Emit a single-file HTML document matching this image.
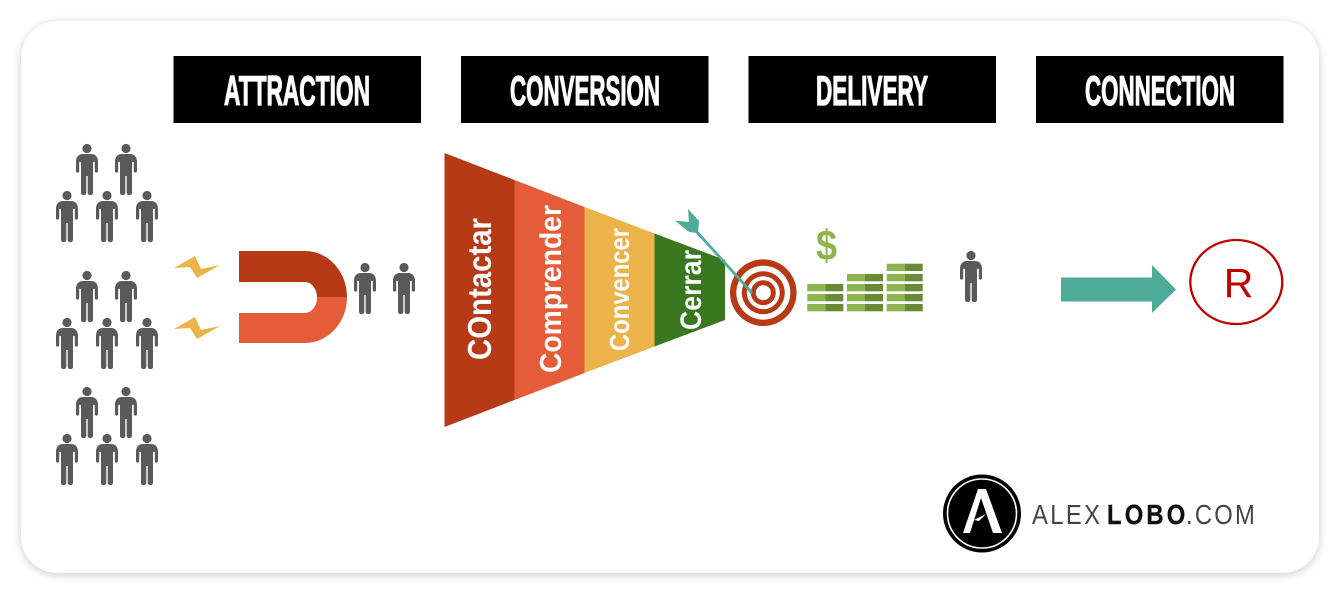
<!DOCTYPE html>
<html><head><meta charset="utf-8"><style>
html,body{margin:0;padding:0;background:#fff;width:1341px;height:595px;overflow:hidden}
#c{position:absolute;left:21px;top:21px;width:1298px;height:552px;background:#fff;border-radius:36px;box-shadow:0 2px 9px rgba(0,0,0,.2)}
svg{position:absolute;left:0;top:0}
text{font-family:"Liberation Sans",sans-serif}
</style></head><body><div id="c"></div>
<svg width="1341" height="595" viewBox="0 0 1341 595">
<defs>
<g id="p" fill="#5a5a5a"><circle cx="0" cy="4.500" r="4.600"/><path d="M-4 10H4C8.500 10 11 13 11 18V27a1.600 1.600 0 0 1-3.200 0V18.500C7.800 17.500 6.500 17.500 6 18.500V49a2.700 2.700 0 0 1-5.300 0V32H-.7V49a2.700 2.700 0 0 1-5.300 0V18.500C-6.500 17.500-7.800 17.500-7.800 18.500V27a1.600 1.600 0 0 1-3.200 0V18C-11 13-8.500 10-4 10Z"/></g>
<g id="b"><rect x="0" y="0" width="18" height="7.300" fill="#8cb54f"/><rect x="18" y="0" width="18" height="7.300" fill="#6b8a37"/></g>
</defs>
<g fill="#000"><rect x="173.500" y="56" width="247.500" height="67"/><rect x="461" y="56" width="247.500" height="67"/><rect x="748.500" y="56" width="247.500" height="67"/><rect x="1036" y="56" width="247.500" height="67"/></g>
<g fill="#fff" stroke="#fff" stroke-width="1.300" font-weight="700" font-size="42">
<text x="224" y="105" textLength="146" lengthAdjust="spacingAndGlyphs">ATTRACTION</text>
<text x="510" y="105" textLength="150" lengthAdjust="spacingAndGlyphs">CONVERSION</text>
<text x="816" y="105" textLength="112" lengthAdjust="spacingAndGlyphs">DELIVERY</text>
<text x="1085" y="105" textLength="150" lengthAdjust="spacingAndGlyphs">CONNECTION</text>
</g>
<use href="#p" x="87" y="144"/><use href="#p" x="126" y="144"/><use href="#p" x="67" y="191"/><use href="#p" x="107" y="191"/><use href="#p" x="147" y="191"/>
<use href="#p" x="87" y="271"/><use href="#p" x="126" y="271"/><use href="#p" x="67" y="318"/><use href="#p" x="107" y="318"/><use href="#p" x="147" y="318"/>
<use href="#p" x="87" y="387"/><use href="#p" x="126" y="387"/><use href="#p" x="67" y="434"/><use href="#p" x="107" y="434"/><use href="#p" x="147" y="434"/>
<use href="#p" x="365" y="263"/><use href="#p" x="404" y="263"/><use href="#p" x="971" y="251"/>
<polygon points="174,268 195,256 201,269 220,265 197,278 190,267" fill="#ecb34a"/>
<polygon points="174,329 195,317 201,330 220,326 197,339 190,328" fill="#ecb34a"/>
<path d="M239 251H305A42 46 0 0 1 347 297H317A12 15.500 0 0 0 305 282H239Z" fill="#b53a15"/>
<path d="M239 343H305A42 46 0 0 0 347 297H317A12 15.500 0 0 1 305 313H239Z" fill="#e45c38"/>
<polygon points="444.500,153 514.500,180 514.500,400 444.500,427" fill="#b53a15"/>
<polygon points="514.500,180 584.500,207 584.500,373 514.500,400" fill="#e45c38"/>
<polygon points="584.500,207 654.500,233.500 654.500,346.500 584.500,373" fill="#ecb34a"/>
<polygon points="654.500,233.500 725,260 725,320 654.500,346.500" fill="#3a7820"/>
<g fill="#fff" font-weight="700">
<text transform="translate(491,360) rotate(-90)" font-size="33" textLength="142" lengthAdjust="spacingAndGlyphs">COntactar</text>
<text transform="translate(561,373) rotate(-90)" font-size="31" textLength="168" lengthAdjust="spacingAndGlyphs">Comprender</text>
<text transform="translate(629,351) rotate(-90)" font-size="28" textLength="123" lengthAdjust="spacingAndGlyphs">Convencer</text>
<text transform="translate(701,330) rotate(-90)" font-size="30" textLength="80" lengthAdjust="spacingAndGlyphs">Cerrar</text>
</g>
<circle cx="763.300" cy="292.700" r="33.300" fill="#b53a15"/><circle cx="763.300" cy="292.700" r="27" fill="#fff"/><circle cx="763.300" cy="292.700" r="21.500" fill="#b53a15"/><circle cx="763.300" cy="292.700" r="16.500" fill="#fff"/><circle cx="763.300" cy="292.700" r="12.500" fill="#b53a15"/><circle cx="763.300" cy="292.700" r="7.500" fill="#fff"/>
<line x1="696" y1="231" x2="752" y2="293" stroke="#4dac97" stroke-width="2.800"/>
<polygon points="675,220.500 689,222 688,209 699,221 698,233 689,232" fill="#4dac97"/>
<text transform="translate(826.500,260) scale(.88,1)" font-size="43" font-weight="700" fill="#8cb54f" text-anchor="middle">$</text>
<use href="#b" x="807.300" y="304"/><use href="#b" x="807.300" y="294"/><use href="#b" x="807.300" y="284"/>
<use href="#b" x="847" y="304"/><use href="#b" x="847" y="294"/><use href="#b" x="847" y="284"/><use href="#b" x="847" y="274"/>
<use href="#b" x="886.700" y="304"/><use href="#b" x="886.700" y="294"/><use href="#b" x="886.700" y="284"/><use href="#b" x="886.700" y="274"/><use href="#b" x="886.700" y="263.700"/>
<polygon points="1061,277.500 1152,277.500 1152,265 1176,289.500 1152,313 1152,301.500 1061,301.500" fill="#4dac97"/>
<ellipse cx="1236.300" cy="282" rx="46" ry="42" fill="none" stroke="#c00000" stroke-width="2.300"/>
<text x="1238.500" y="297" font-size="41" fill="#c00000" text-anchor="middle">R</text>
<circle cx="982" cy="513.500" r="39" fill="#000"/><circle cx="982" cy="513.500" r="34.500" fill="none" stroke="#fff" stroke-width="1.600"/>
<polygon points="978,489 986,489 1002,533 993,533 981,498 970,533 963,533" fill="#fff"/>
<polygon points="974,520 986,514 979,521" fill="#fff"/>
<g font-size="28">
<text transform="translate(1032,524) scale(.85,1)" textLength="80" lengthAdjust="spacing" fill="#444">ALEX</text>
<text transform="translate(1107,524) scale(.85,1)" textLength="92" lengthAdjust="spacing" font-weight="700" fill="#111" stroke="#111" stroke-width=".4">LOBO</text>
<text transform="translate(1186,524) scale(.85,1)" textLength="81" lengthAdjust="spacing" fill="#444">.COM</text>
</g>
</svg></body></html>
